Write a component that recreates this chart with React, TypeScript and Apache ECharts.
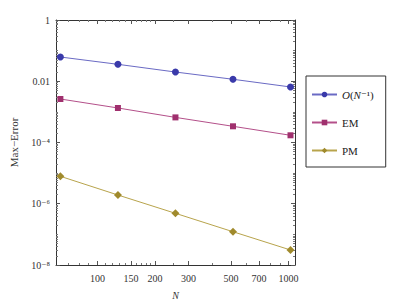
import React, { useEffect, useRef } from "react";
import * as echarts from "echarts";

const nValues = [64, 128, 256, 512, 1024];
const orderValues = [0.0619, 0.0357, 0.02, 0.0116, 0.0065];
const emValues = [2.63e-3, 1.34e-3, 6.6e-4, 3.38e-4, 1.72e-4];
const pmValues = [7.86e-6, 1.93e-6, 4.87e-7, 1.22e-7, 3.09e-8];

const xTickLabels = [100, 150, 200, 300, 500, 700, 1000];
const xMinorTicks = [70, 80, 90, 110, 120, 130, 140, 160, 170, 180, 190, 250, 400, 600, 800, 900];
const yTickLabels = [1e-8, 1e-6, 1e-4, 1e-2, 1];
const yMinorTicks: number[] = [];
for (let e = -8; e < 0; e++) {
  for (let m = 1; m <= 9; m++) {
    const v = m * Math.pow(10, e);
    if (m === 1 && e % 2 === 0) continue;
    yMinorTicks.push(v);
  }
}

const FONT = "'Liberation Serif', 'DejaVu Serif', serif";
const SUP: Record<string, string> = { "-": "\u207B", "0": "\u2070", "1": "\u00B9", "2": "\u00B2", "3": "\u00B3", "4": "\u2074", "5": "\u2075", "6": "\u2076", "7": "\u2077", "8": "\u2078", "9": "\u2079" };

function yFmt(v: number): string {
  const e = Math.round(Math.log10(v));
  if (e === 0) return "1";
  if (e === -2) return "0.01";
  return "10" + String(e).split("").map((c) => SUP[c]).join("");
}

const X_MIN = 60.7;
const X_MAX = 1081;

export default function App() {
  const ref = useRef<HTMLDivElement>(null);
  useEffect(() => {
    if (!ref.current) return;
    const chart = echarts.init(ref.current, undefined, { renderer: "svg" });
    const axisLine = { show: true, lineStyle: { color: "#333", width: 1 } };
    const baseX = { type: "log", min: X_MIN, max: X_MAX, splitLine: { show: false } };
    const baseY = { type: "log", min: 1e-8, max: 1, splitLine: { show: false } };
    chart.setOption({
      animation: false,
      backgroundColor: "#fff",
      grid: { left: 51, right: 101, top: 20, bottom: 40, containLabel: false },
      legend: {
        orient: "vertical",
        left: 306,
        top: 76,
        padding: [13, 12, 11, 5],
        itemGap: 17,
        itemWidth: 25,
        itemHeight: 7,
        borderColor: "#333",
        borderWidth: 1,
        formatter: (name: string) => (name === "O" ? "{i|O}({i|N}\u207B\u00B9)" : name),
        textStyle: {
          fontFamily: FONT,
          fontSize: 11,
          color: "#222",
          rich: { i: { fontStyle: "italic", fontFamily: FONT, fontSize: 11, color: "#222" } },
        },
        data: ["O", "EM", "PM"],
      },
      xAxis: [
        {
          ...baseX,
          position: "bottom",
          name: "N",
          nameLocation: "middle",
          nameGap: 25,
          nameTextStyle: { fontFamily: FONT, fontStyle: "italic", fontSize: 10, color: "#333" },
          axisLine,
          axisTick: { show: true, inside: true, length: 4, customValues: xTickLabels, lineStyle: { color: "#555" } },
          axisLabel: { show: true, customValues: xTickLabels, formatter: (v: number) => String(Math.round(v)), fontFamily: FONT, fontSize: 10, color: "#333", margin: 8 },
        },
        {
          ...baseX,
          position: "bottom",
          axisLine: { show: false },
          axisTick: { show: true, inside: true, length: 2, customValues: xMinorTicks, lineStyle: { color: "#777" } },
          axisLabel: { show: false },
        },
        {
          ...baseX,
          position: "top",
          axisLine,
          axisTick: { show: true, inside: true, length: 4, customValues: xTickLabels, lineStyle: { color: "#555" } },
          axisLabel: { show: false },
        },
        {
          ...baseX,
          position: "top",
          axisLine: { show: false },
          axisTick: { show: true, inside: true, length: 2, customValues: xMinorTicks, lineStyle: { color: "#777" } },
          axisLabel: { show: false },
        },
      ],
      yAxis: [
        {
          ...baseY,
          position: "left",
          name: "Max\u2212Error",
          nameLocation: "middle",
          nameGap: 37,
          nameTextStyle: { fontFamily: FONT, fontSize: 11, color: "#333" },
          axisLine,
          axisTick: { show: true, inside: true, length: 4, customValues: yTickLabels, lineStyle: { color: "#555" } },
          axisLabel: { show: true, customValues: yTickLabels, formatter: yFmt, fontFamily: FONT, fontSize: 10, color: "#333", margin: 6 },
        },
        {
          ...baseY,
          position: "left",
          axisLine: { show: false },
          axisTick: { show: true, inside: true, length: 2, customValues: yMinorTicks, lineStyle: { color: "#777" } },
          axisLabel: { show: false },
        },
        {
          ...baseY,
          position: "right",
          axisLine,
          axisTick: { show: true, inside: true, length: 4, customValues: yTickLabels, lineStyle: { color: "#555" } },
          axisLabel: { show: false },
        },
        {
          ...baseY,
          position: "right",
          axisLine: { show: false },
          axisTick: { show: true, inside: true, length: 2, customValues: yMinorTicks, lineStyle: { color: "#777" } },
          axisLabel: { show: false },
        },
      ],
      series: [
        {
          name: "O",
          type: "line",
          xAxisIndex: 0,
          yAxisIndex: 0,
          data: nValues.map((n, i) => [n, orderValues[i]]),
          symbol: "circle",
          symbolSize: 7,
          lineStyle: { color: "#6a6ac4", width: 1 },
          itemStyle: { color: "#3a3aaa" },
        },
        {
          name: "EM",
          type: "line",
          xAxisIndex: 0,
          yAxisIndex: 0,
          data: nValues.map((n, i) => [n, emValues[i]]),
          symbol: "rect",
          symbolSize: 6,
          lineStyle: { color: "#b4508a", width: 1 },
          itemStyle: { color: "#a0306e" },
        },
        {
          name: "PM",
          type: "line",
          xAxisIndex: 0,
          yAxisIndex: 0,
          data: nValues.map((n, i) => [n, pmValues[i]]),
          symbol: "diamond",
          symbolSize: 8,
          lineStyle: { color: "#b8a44c", width: 1 },
          itemStyle: { color: "#a08a2c" },
        },
      ],
    });
    return () => chart.dispose();
  }, []);
  return <div ref={ref} style={{ width: 396, height: 305, position: "absolute", left: 0, top: 0 }} />;
}
